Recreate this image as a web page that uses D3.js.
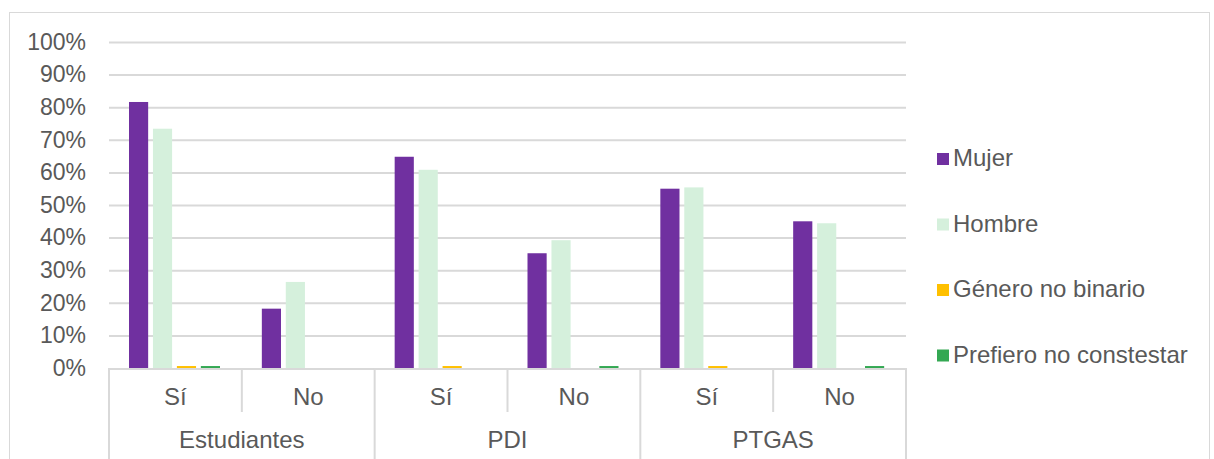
<!DOCTYPE html>
<html>
  <head>
    <style>
      body { margin: 0; background: #fff; }
      text { font-family: "Liberation Sans", Arial, sans-serif; fill: #595959; }
    </style>
    <script src="https://d3js.org/d3.v7.min.js"></script>
  </head>
  <body>
    <svg class="chart"></svg>

    <script>
      // categories
      const groups = ['Estudiantes', 'PDI', 'PTGAS'];
      const answers = ['Sí', 'No'];
      const series = ['Mujer', 'Hombre', 'Género no binario', 'Prefiero no constestar'];
      const colors = ['#7030A0', '#D5F0DC', '#FFC000', '#34A853'];
      const yTicks = [0, 10, 20, 30, 40, 50, 60, 70, 80, 90, 100];

      // values (%), order: Estudiantes Sí/No, PDI Sí/No, PTGAS Sí/No
      const mujer = [81.6, 18.2, 64.8, 35.2, 55.0, 45.0];
      const hombre = [73.4, 26.4, 60.8, 39.2, 55.4, 44.4];
      const generoNoBinario = [0.6, 0, 0.6, 0, 0.6, 0];
      const prefieroNoContestar = [0.6, 0, 0, 0.6, 0, 0.6];

      const values = [mujer, hombre, generoNoBinario, prefieroNoContestar];

      const cats = [];
      groups.forEach(g => answers.forEach(a => cats.push({ group: g, answer: a })));

      const width = 1214;
      const height = 459;
      const plot = { left: 109, right: 906, top: 42, bottom: 368 };

      const svg = d3.select('svg')
        .attr('width', width)
        .attr('height', height);

      // outer border
      svg.append('rect')
        .attr('x', 9.5).attr('y', 12.5)
        .attr('width', 1200).attr('height', 460)
        .attr('fill', 'none').attr('stroke', '#D9D9D9');

      const x0 = d3.scaleBand().domain(d3.range(cats.length)).range([plot.left, plot.right]);
      const x1 = d3.scaleBand().domain(series).range([20, 111]).paddingInner(0.2);
      const y = d3.scaleLinear().domain([0, 100]).range([plot.bottom, plot.top]);

      // grid + y labels
      const yAxis = svg.append('g')
        .attr('transform', `translate(${plot.left},0)`)
        .call(d3.axisLeft(y).tickValues(yTicks).tickFormat(d => d + '%')
          .tickSize(-(plot.right - plot.left)).tickPadding(23));
      yAxis.select('.domain').remove();
      yAxis.selectAll('.tick line').attr('stroke', '#D9D9D9').attr('stroke-width', 2)
        .filter(d => d === 0).remove();
      yAxis.selectAll('.tick text')
        .style('font-size', '23px').attr('fill', '#595959')
        .style('font-family', '"Liberation Sans", Arial, sans-serif');

      // bars
      series.forEach((s, si) => {
        svg.append('g').selectAll('rect')
          .data(values[si])
          .join('rect')
          .attr('x', (d, i) => x0(i) + x1(s))
          .attr('width', x1.bandwidth())
          .attr('y', d => y(d))
          .attr('height', d => y(0) - y(d))
          .attr('fill', colors[si]);
      });

      // category axis
      const axisColor = '#D9D9D9';
      svg.append('line')
        .attr('x1', plot.left).attr('x2', plot.right)
        .attr('y1', plot.bottom + 1).attr('y2', plot.bottom + 1)
        .attr('stroke', axisColor).attr('stroke-width', 2);

      const step = x0.step();
      d3.range(cats.length + 1).forEach(i => {
        const xv = plot.left + i * step;
        const major = i % answers.length === 0;
        svg.append('line')
          .attr('x1', xv).attr('x2', xv)
          .attr('y1', plot.bottom).attr('y2', major ? height : 412)
          .attr('stroke', axisColor).attr('stroke-width', 2);
      });

      svg.append('g').selectAll('text')
        .data(cats)
        .join('text')
        .attr('x', (d, i) => x0(i) + step / 2)
        .attr('y', 405)
        .attr('text-anchor', 'middle')
        .style('font-size', '24px')
        .text(d => d.answer);

      svg.append('g').selectAll('text')
        .data(groups)
        .join('text')
        .attr('x', (d, i) => plot.left + (i + 0.5) * step * answers.length)
        .attr('y', 448)
        .attr('text-anchor', 'middle')
        .style('font-size', '24px')
        .text(d => d);

      // legend
      const legend = svg.append('g').selectAll('g')
        .data(series)
        .join('g')
        .attr('transform', (d, i) => `translate(937,${153 + i * 65.5})`);
      legend.append('rect')
        .attr('width', 12).attr('height', 12)
        .attr('fill', (d, i) => colors[i]);
      legend.append('text')
        .attr('x', 16).attr('y', 13)
        .style('font-size', '24px')
        .text(d => d);
    </script>
  </body>
</html>
